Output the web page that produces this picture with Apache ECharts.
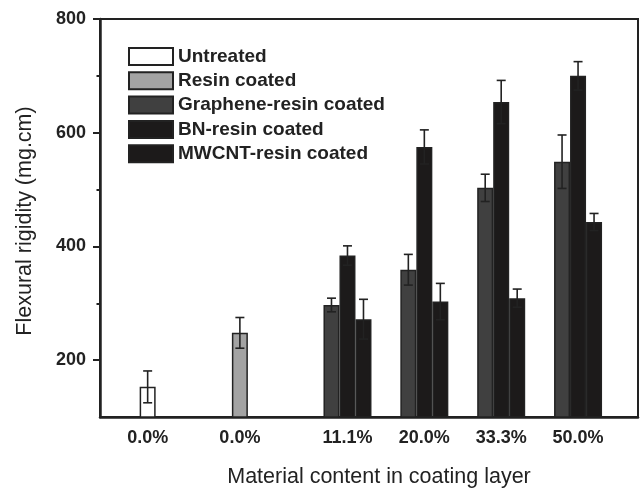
<!DOCTYPE html>
<html>
<head>
<meta charset="utf-8">
<script src="https://cdn.jsdelivr.net/npm/echarts@6/dist/echarts.min.js"></script>
<style>
html,body{margin:0;padding:0;background:#fff;}
#chart{width:642px;height:489px;}
</style>
</head>
<body>
<div id="chart"></div>
<script>
// ---- data ----
const categories = ['0.0%', '0.0%', '11.1%', '20.0%', '33.3%', '50.0%'];
const groupPos = [1, 2.2, 3.6, 4.6, 5.6, 6.6];
const seriesNames = ['Untreated', 'Resin coated', 'Graphene-resin coated', 'BN-resin coated', 'MWCNT-resin coated'];
const untreated = [153, null, null, null, null, null];
const untreatedErr = [28, null, null, null, null, null];
const resin = [null, 248, null, null, null, null];
const resinErr = [null, 27, null, null, null, null];
const graphene = [null, null, 297, 359, 503, 549];
const grapheneErr = [null, null, 12, 27, 24, 47];
const bn = [null, null, 384, 575, 654, 700];
const bnErr = [null, null, 17, 30, 38, 25];
const mwcnt = [null, null, 272, 303, 309, 443];
const mwcntErr = [null, null, 35, 32, 16, 15];
const yTicks = [200, 400, 600, 800];
const yMinorTicks = [300, 500, 700];

// ---- style ----
const INK = '#222';
const BAR_W = 16;
const FONT = 'Liberation Sans, Arial, sans-serif';

function pts(vals) {
  return vals.map((v, i) => [groupPos[i], v == null ? '-' : v]);
}
function errPts(vals, errs) {
  const out = [];
  vals.forEach((v, i) => { if (v != null) out.push([groupPos[i], v, errs[i]]); });
  return out;
}
function barSeries(name, vals, color, stack) {
  const s = {
    name: name, type: 'bar', data: pts(vals), barWidth: BAR_W, barGap: '0%',
    itemStyle: { color: color, borderColor: INK, borderWidth: 1.5 },
    z: 2
  };
  if (stack) s.stack = stack;
  return s;
}
function errSeries(vals, errs, slot) {
  return {
    type: 'custom', data: errPts(vals, errs), z: 5, silent: true,
    encode: { x: 0, y: 1 },
    renderItem: function (params, api) {
      const x = api.value(0), y = api.value(1), e = api.value(2);
      const hi = api.coord([x, y + e]);
      const lo = api.coord([x, y - e]);
      const cx = hi[0] + slot * BAR_W;
      const cap = 4.5;
      const st = { stroke: INK, lineWidth: 1.6, fill: null };
      return {
        type: 'group',
        children: [
          { type: 'line', shape: { x1: cx, y1: hi[1], x2: cx, y2: lo[1] }, style: st },
          { type: 'line', shape: { x1: cx - cap, y1: hi[1], x2: cx + cap, y2: hi[1] }, style: st },
          { type: 'line', shape: { x1: cx - cap, y1: lo[1], x2: cx + cap, y2: lo[1] }, style: st }
        ]
      };
    }
  };
}

const chart = echarts.init(document.getElementById('chart'), null, { renderer: 'canvas' });
chart.setOption({
  backgroundColor: '#fff',
  animation: false,
  textStyle: { fontFamily: FONT },
  grid: {
    left: 100, right: 4, top: 19, bottom: 72, outerBoundsMode: 'none', containLabel: false,
    show: true, borderColor: INK, borderWidth: 2, backgroundColor: 'transparent'
  },
  legend: {
    data: seriesNames, orient: 'vertical', left: 128, top: 47, padding: 0,
    itemWidth: 44, itemHeight: 17, itemGap: 5.3, icon: 'rect',
    textStyle: { fontSize: 19, fontWeight: 'bold', color: INK, fontFamily: FONT, lineHeight: 19 }
  },
  xAxis: {
    type: 'value', min: 0.38, max: 7.38,
    splitLine: { show: false },
    axisLine: { show: true, onZero: false, lineStyle: { color: INK, width: 2.5 } },
    axisTick: { show: false },
    axisLabel: {
      customValues: groupPos,
      formatter: function (v) { const i = groupPos.indexOf(v); return i >= 0 ? categories[i] : ''; },
      fontSize: 18, fontWeight: 'bold', color: INK, margin: 12, fontFamily: FONT
    },
    name: 'Material content in coating layer', nameLocation: 'middle', nameGap: 49,
    nameTextStyle: { fontSize: 21.5, color: INK, fontFamily: FONT, padding: [0, 0, 0, 20] }
  },
  yAxis: [{
    type: 'value', min: 100, max: 800, interval: 100, position: 'left',
    splitLine: { show: false },
    axisLine: { show: true, onZero: false, lineStyle: { color: INK, width: 2.5 } },
    axisTick: { show: true, customValues: yTicks, length: 7, lineStyle: { color: INK, width: 2 } },
    axisLabel: { customValues: yTicks, fontSize: 18, fontWeight: 'bold', color: INK, margin: 14, fontFamily: FONT },
    name: 'Flexural rigidity (mg.cm)', nameLocation: 'middle', nameGap: 64,
    nameTextStyle: { fontSize: 21.5, color: INK, fontFamily: FONT, padding: [0, 6, 0, 0] }
  }, {
    type: 'value', min: 100, max: 800, interval: 100, position: 'left',
    splitLine: { show: false },
    axisLine: { show: false },
    axisTick: { show: true, customValues: yMinorTicks, length: 3.5, lineStyle: { color: INK, width: 2 } },
    axisLabel: { show: false }
  }],
  series: [
    barSeries(seriesNames[2], graphene, '#404040'),
    barSeries(seriesNames[0], untreated, '#ffffff', 'mid'),
    barSeries(seriesNames[1], resin, '#a3a3a3', 'mid'),
    barSeries(seriesNames[3], bn, '#1c1a1a', 'mid'),
    barSeries(seriesNames[4], mwcnt, '#1c1a1a'),
    errSeries(graphene, grapheneErr, -1),
    errSeries(untreated, untreatedErr, 0),
    errSeries(resin, resinErr, 0),
    errSeries(bn, bnErr, 0),
    errSeries(mwcnt, mwcntErr, 1)
  ]
});
</script>
</body>
</html>
